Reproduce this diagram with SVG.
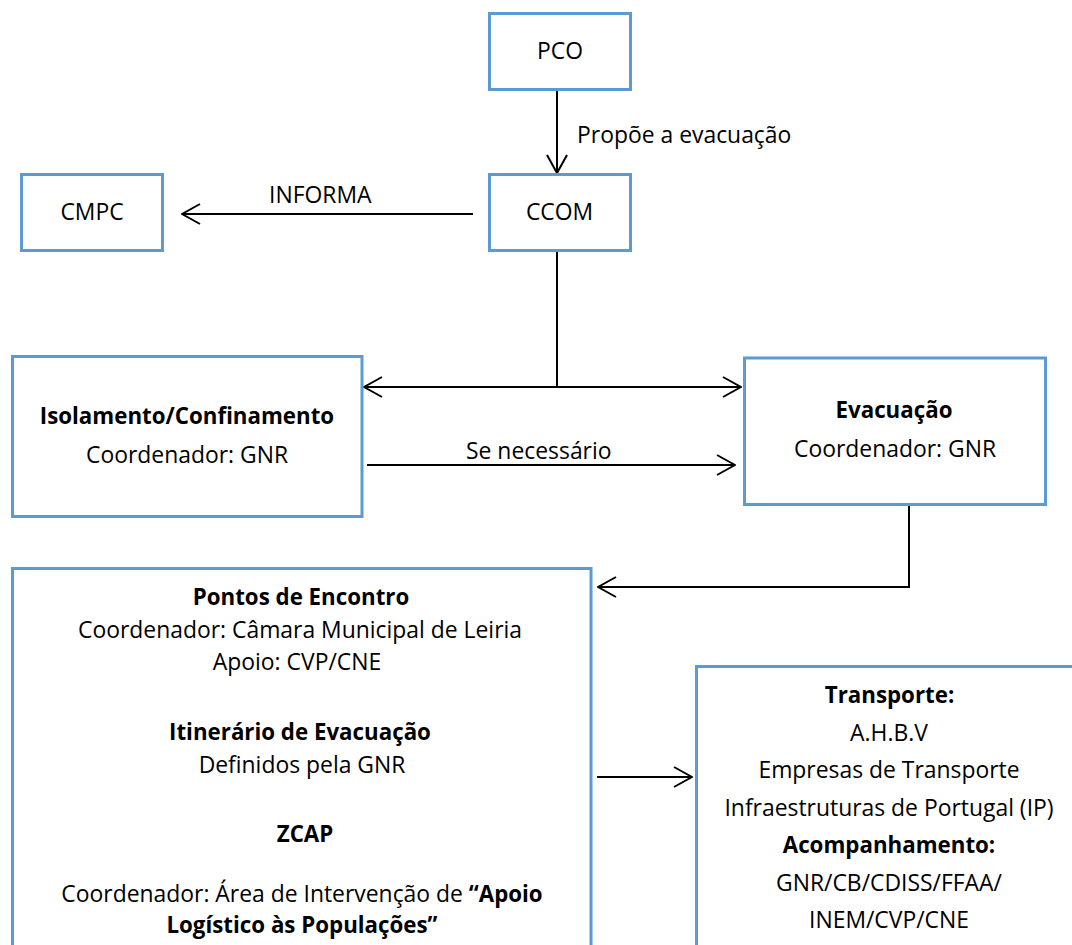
<svg xmlns="http://www.w3.org/2000/svg" width="1072" height="945" viewBox="0 0 1072 945">
<style>
.box{fill:#fff;stroke:#5B9BD5;stroke-width:3}
.ln{fill:none;stroke:#000;stroke-width:2}
text{font-family:"Open Sans","Liberation Sans",sans-serif;font-size:22.9px;fill:#000}
.c{text-anchor:middle}
.b{font-weight:bold;font-size:22.3px}
</style>
<defs>
<marker id="ah" viewBox="0 0 20 22" refX="19" refY="11" markerWidth="20" markerHeight="22" markerUnits="userSpaceOnUse" orient="auto">
<path d="M1,1 L19,11 L1,21" fill="none" stroke="#000" stroke-width="2"/>
</marker>
</defs>
<rect width="1072" height="945" fill="#fff"/>
<g id="connectors">
<line class="ln" x1="557" y1="90" x2="557" y2="173" marker-end="url(#ah)"/>
<line class="ln" x1="473" y1="214" x2="182" y2="214" marker-end="url(#ah)"/>
<line class="ln" x1="557" y1="251" x2="557" y2="387"/>
<line class="ln" x1="557" y1="387" x2="364" y2="387" marker-end="url(#ah)"/>
<line class="ln" x1="557" y1="387" x2="741" y2="387" marker-end="url(#ah)"/>
<line class="ln" x1="367" y1="465" x2="735" y2="465" marker-end="url(#ah)"/>
<polyline class="ln" points="909,505 909,587 598,587" marker-end="url(#ah)"/>
<line class="ln" x1="597" y1="777" x2="692" y2="777" marker-end="url(#ah)"/>
<text x="577" y="143">Propõe a evacuação</text>
<text x="269" y="203">INFORMA</text>
<text x="466" y="459">Se necessário</text>
</g>
<g id="pco">
<rect class="box" x="489.5" y="13.5" width="141" height="76"/>
<text class="c" x="560" y="59">PCO</text>
</g>
<g id="ccom">
<rect class="box" x="489.5" y="174.5" width="141" height="76"/>
<text class="c" x="559.5" y="220">CCOM</text>
</g>
<g id="cmpc">
<rect class="box" x="21.5" y="174.5" width="141" height="76"/>
<text class="c" x="92" y="220">CMPC</text>
</g>
<g id="isolamento">
<rect class="box" x="12.5" y="356.5" width="349.5" height="160"/>
<text class="c b" x="187" y="424">Isolamento/Confinamento</text>
<text class="c" x="187" y="463">Coordenador: GNR</text>
</g>
<g id="evacuacao">
<rect class="box" x="744.5" y="358" width="301" height="146.5"/>
<text class="c b" x="894" y="418">Evacuação</text>
<text class="c" x="895" y="457">Coordenador: GNR</text>
</g>
<g id="pontos">
<rect class="box" x="12.5" y="568.5" width="578.5" height="400"/>
<text class="c b" x="301" y="605">Pontos de Encontro</text>
<text class="c" x="300" y="638">Coordenador: Câmara Municipal de Leiria</text>
<text class="c" x="297" y="670">Apoio: CVP/CNE</text>
<text class="c b" x="300" y="740">Itinerário de Evacuação</text>
<text class="c" x="302" y="773">Definidos pela GNR</text>
<text class="c b" x="305" y="842">ZCAP</text>
<text class="c" x="302" y="902">Coordenador: Área de Intervenção de <tspan font-weight="bold" font-size="22.3px">“Apoio</tspan></text>
<text class="c b" x="302" y="933">Logístico às Populações”</text>
</g>
<g id="transporte">
<rect class="box" x="696.5" y="666.5" width="400" height="300"/>
<text class="c b" x="889.5" y="703">Transporte:</text>
<text class="c" x="889" y="741">A.H.B.V</text>
<text class="c" x="889" y="778">Empresas de Transporte</text>
<text class="c" x="889" y="816">Infraestruturas de Portugal (IP)</text>
<text class="c b" x="889" y="853">Acompanhamento:</text>
<text class="c" x="889" y="891">GNR/CB/CDISS/FFAA/</text>
<text class="c" x="889" y="928">INEM/CVP/CNE</text>
</g>
</svg>
